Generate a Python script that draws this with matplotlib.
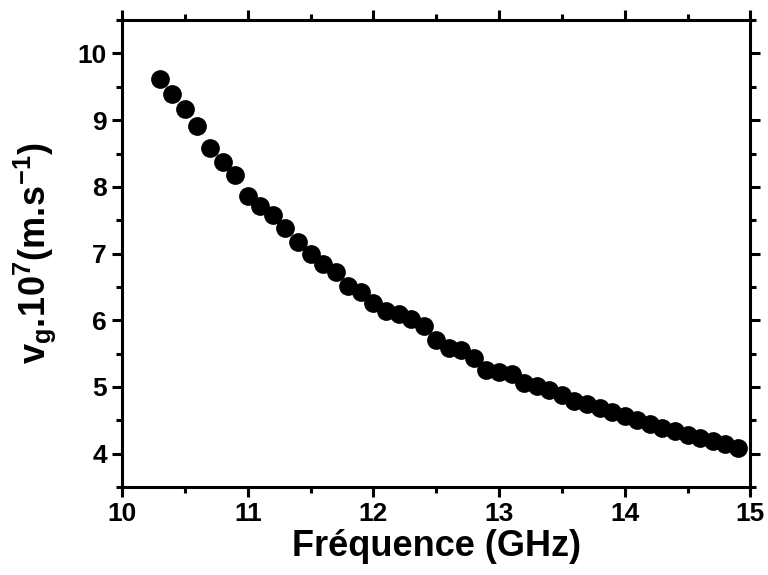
import numpy as np
import matplotlib
matplotlib.use("Agg")
import matplotlib.pyplot as plt
from matplotlib.ticker import MultipleLocator

# Data
freq = [10.3, 10.4, 10.5, 10.6, 10.7, 10.8, 10.9, 11.0, 11.1, 11.2,
        11.3, 11.4, 11.5, 11.6, 11.7, 11.8, 11.9, 12.0, 12.1, 12.2,
        12.3, 12.4, 12.5, 12.6, 12.7, 12.8, 12.9, 13.0, 13.1, 13.2,
        13.3, 13.4, 13.5, 13.6, 13.7, 13.8, 13.9, 14.0, 14.1, 14.2,
        14.3, 14.4, 14.5, 14.6, 14.7, 14.8, 14.9]
vg = [9.62, 9.39, 9.17, 8.91, 8.58, 8.38, 8.18, 7.86, 7.72, 7.58,
      7.39, 7.17, 6.99, 6.84, 6.72, 6.51, 6.42, 6.26, 6.14, 6.09,
      6.02, 5.91, 5.71, 5.58, 5.56, 5.43, 5.26, 5.22, 5.19, 5.06,
      5.01, 4.96, 4.88, 4.79, 4.74, 4.69, 4.63, 4.57, 4.50, 4.44,
      4.38, 4.34, 4.28, 4.23, 4.19, 4.14, 4.09]

plt.rcParams["font.family"] = ["Liberation Sans", "DejaVu Sans"]
plt.rcParams["font.weight"] = "bold"
plt.rcParams["mathtext.fontset"] = "custom"
plt.rcParams["mathtext.rm"] = "Liberation Sans:bold"
plt.rcParams["mathtext.bf"] = "Liberation Sans:bold"
plt.rcParams["mathtext.it"] = "Liberation Sans:bold"

fig = plt.figure(figsize=(7.68, 5.75), dpi=100)
ax = fig.add_axes([0.159, 0.153, 0.818, 0.812])

ax.plot(freq, vg, "o", color="black", markersize=13.5, markeredgewidth=0)

ax.set_xlim(10, 15)
ax.set_ylim(3.5, 10.5)
ax.xaxis.set_major_locator(MultipleLocator(1))
ax.xaxis.set_minor_locator(MultipleLocator(0.5))
ax.yaxis.set_major_locator(MultipleLocator(1))
ax.yaxis.set_minor_locator(MultipleLocator(0.5))

for s in ax.spines.values():
    s.set_linewidth(2.2)
ax.tick_params(which="both", direction="out", top=True, right=True,
               labeltop=False, labelright=False, width=2.2)
ax.tick_params(which="major", length=7, labelsize=19, pad=4)
ax.tick_params(which="minor", length=4)
for lbl in ax.get_xticklabels() + ax.get_yticklabels():
    lbl.set_fontweight("bold")

ax.set_xlabel("Fréquence (GHz)", fontsize=26, fontweight="bold", labelpad=2)
ax.set_ylabel(r"$\mathbf{v_g.\!10^7(m.\!s^{-1})}$", fontsize=26, labelpad=14)

fig.savefig("out.png", dpi=100)
